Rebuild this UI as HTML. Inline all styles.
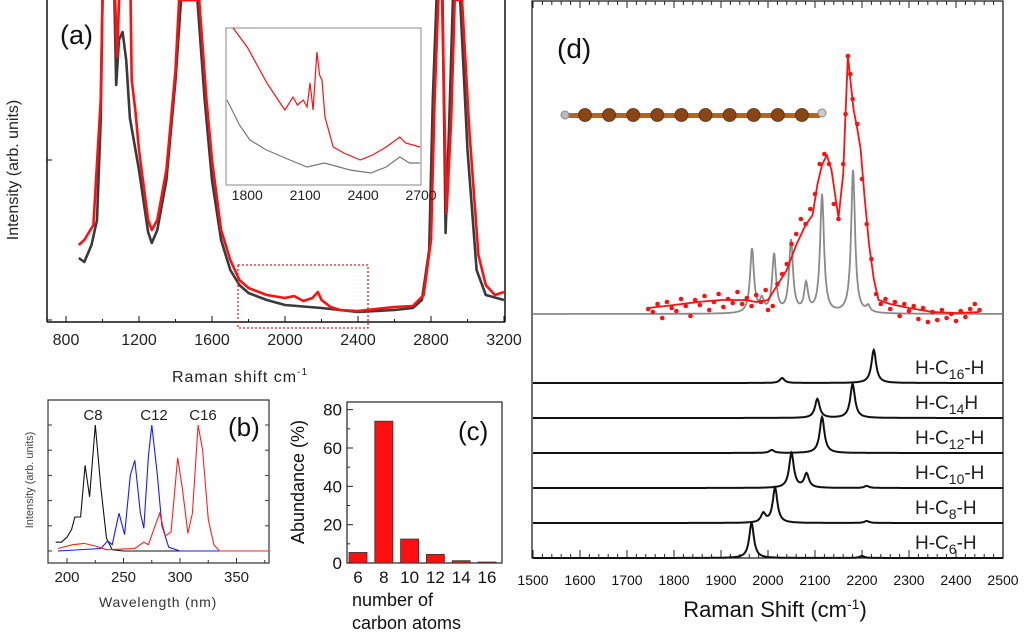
<!DOCTYPE html>
<html><head><meta charset="utf-8"><style>
html,body{margin:0;padding:0;background:#fff;}
svg{display:block;font-family:"Liberation Sans",sans-serif;}
</style></head><body>
<svg id="fig" width="1024" height="634" viewBox="0 0 1024 634">
<defs>
<clipPath id="clipA"><rect x="47" y="0" width="458" height="322"/></clipPath>
<clipPath id="clipB"><rect x="48" y="400" width="221" height="163"/></clipPath>
</defs>
<g>
<line x1="47" y1="0" x2="47" y2="322" stroke="#111" stroke-width="1.5"/>
<line x1="47" y1="322" x2="505" y2="322" stroke="#111" stroke-width="1.5"/>
<line x1="505" y1="0" x2="505" y2="322" stroke="#111" stroke-width="1.5"/>
<line x1="47" y1="160" x2="52" y2="160" stroke="#111"/>
<line x1="47" y1="320" x2="52" y2="320" stroke="#111"/>
<g id="aTicks"></g>
<g id="aCurves" clip-path="url(#clipA)"></g>
<text x="60" y="44" font-size="27" fill="#111">(a)</text>
<text x="240" y="382" font-size="16" fill="#222" text-anchor="middle" letter-spacing="1">Raman shift cm<tspan dy="-7" font-size="10">-1</tspan></text>
<text transform="translate(18,170) rotate(-90)" font-size="16" fill="#222" text-anchor="middle">Intensity (arb. units)</text>
<rect x="238" y="265" width="130" height="63" fill="none" stroke="#e02020" stroke-width="1.3" stroke-dasharray="2 2"/>
<g>
<rect x="226" y="28" width="195" height="157" fill="#fff" stroke="#888" stroke-width="1"/>
<g id="insetCurves"></g>
<g id="insetTicks"></g>
</g>
</g>
<g>
<rect x="48" y="400" width="221" height="163" fill="none" stroke="#333" stroke-width="1.2"/>
<g id="bTicks"></g>
<g id="bCurves" clip-path="url(#clipB)"></g>
<text x="93" y="420" font-size="15" fill="#222" text-anchor="middle">C8</text>
<text x="154" y="420" font-size="15" fill="#222" text-anchor="middle">C12</text>
<text x="203" y="420" font-size="15" fill="#222" text-anchor="middle">C16</text>
<text x="228" y="436" font-size="26" fill="#111">(b)</text>
<text x="158" y="607" font-size="14" fill="#333" text-anchor="middle" letter-spacing="0.8">Wavelength (nm)</text>
<text transform="translate(33,480) rotate(-90)" font-size="11" fill="#444" text-anchor="middle">Intensity (arb. units)</text>
</g>
<g>
<rect x="347" y="402" width="155" height="161" fill="none" stroke="#222" stroke-width="1.2"/>
<g id="cBars"></g>
<text x="458" y="440" font-size="26" fill="#111">(c)</text>
<text transform="translate(304,482) rotate(-90)" font-size="18" fill="#111" text-anchor="middle">Abundance (%)</text>
<text x="352" y="606" font-size="18" fill="#111">number of</text>
<text x="352" y="629" font-size="18" fill="#111">carbon atoms</text>
</g>
<g>
<rect x="532" y="1" width="471" height="557" fill="none" stroke="#222" stroke-width="1.3"/>
<g id="dTicks"></g>
<g id="dUpper"></g>
<g id="dStack"></g>
<text x="557" y="58" font-size="28" fill="#111">(d)</text>
<text x="775" y="617" font-size="22" fill="#111" text-anchor="middle">Raman Shift (cm<tspan dy="-8" font-size="14">-1</tspan><tspan dy="8">)</tspan></text>
<g id="mol">
<rect x="566" y="113" width="254" height="5" fill="#b8641c"/>
<circle cx="565" cy="115" r="4" fill="#bbb" stroke="#888"/>
<circle cx="822" cy="113" r="4" fill="#ccc" stroke="#888"/>
</g>
</g>
</svg>
<script>
const aDarkShift=[870,900,940,970,990,1000,1010,1060,1075,1090,1110,1130,1150,1200,1250,1270,1300,1350,1400,1430,1520,1560,1600,1650,1700,1750,1800,1900,2000,2200,2400,2600,2700,2750,2790,2810,2830,2860,2880,2900,2920,2960,3000,3050,3100,3200];
const aDarkInt=[64,60,77,102,202,322,372,372,237,282,290,262,204,152,90,79,92,142,242,322,322,222,142,82,52,37,29,22,17,14,10,12,14,22,72,222,322,372,89,202,322,322,172,52,27,22];
const aRedShift=[870,900,950,990,1000,1060,1080,1100,1150,1160,1180,1200,1250,1270,1300,1350,1400,1420,1530,1570,1600,1650,1700,1750,1800,1900,2000,2050,2100,2150,2180,2200,2250,2300,2400,2600,2700,2760,2800,2820,2840,2860,2885,2910,2930,2970,3010,3060,3100,3150,3200];
const aRedInt=[77,82,97,222,322,372,265,372,372,242,212,172,102,92,102,152,252,322,322,222,162,92,62,42,34,27,24,26,21,24,30,22,15,12,11,15,16,27,82,222,322,330,109,200,322,322,192,67,37,27,30];
const aTickLabels=[800,1200,1600,2000,2400,2800,3200];
const insetRedShift=[1727,1800,1902,1960,1995,2037,2060,2090,2110,2125,2141,2161,2175,2187,2203,2245,2300,2385,2450,2520,2590,2620,2695];
const insetRedInt=[157,138,102,85,75,88,80,85,78,102,75,133,110,105,68,38,32,25,30,38,48,42,38];
const insetGrayShift=[1695,1760,1814,1900,2021,2110,2200,2332,2440,2520,2590,2640,2695];
const insetGrayInt=[85,60,45,35,25,18,22,15,12,18,28,22,22];
const insetTickLabels=[1800,2100,2400,2700];
const bBlackWl=[190,195,200,204,207,212,216,220,225,230,235,240,250,380];
const bBlackInt=[0.07,0.07,0.11,0.17,0.27,0.27,0.68,0.43,1.0,0.5,0.1,0.01,0,0];
const bBlueWl=[192,230,236,240,246,251,256,260,265,268,272,275,280,284,290,300,380];
const bBlueInt=[0,0.02,0.08,0.05,0.3,0.13,0.6,0.72,0.3,0.18,0.75,1.0,0.6,0.2,0.03,0,0];
const bRedWl=[192,205,215,225,235,260,268,272,278,282,287,292,298,302,307,311,316,320,325,330,335,380];
const bRedInt=[0.02,0.05,0.06,0.04,0.01,0.02,0.07,0.05,0.2,0.3,0.12,0.15,0.74,0.5,0.14,0.3,1.0,0.8,0.25,0.05,0,0];
const bTickLabels=[200,250,300,350];
const cCategories=[6,8,10,12,14,16];
const cAbundance=[5.5,74,12.5,4.5,1.2,0.5];
const cTickLabels=[0,20,40,60,80];
const dTickLabels=[1500,1600,1700,1800,1900,2000,2100,2200,2300,2400,2500];
const dGrayCenters=[1966,1987,2013,2049,2081,2115,2181,2213];
const dGrayHeights=[64,12,58,72,28,118,143,6];
const dFitShift=[1745,1800,1850,1900,1950,1975,2000,2020,2040,2060,2080,2095,2105,2115,2125,2135,2150,2160,2165,2170,2175,2182,2190,2197,2205,2215,2225,2235,2260,2300,2350,2400,2450];
const dFitInt=[6,9,12,14,14,12,14,29,44,69,89,99,129,149,159,144,96,140,200,258,235,205,185,165,120,70,35,14,10,6,2,1,2];
const dPointShift=[1745,1755,1765,1775,1785,1795,1805,1815,1825,1835,1845,1855,1865,1875,1885,1895,1905,1915,1925,1935,1945,1955,1965,1975,1985,1995,2000,2010,2020,2030,2040,2050,2060,2070,2080,2090,2100,2110,2120,2130,2140,2150,2160,2165,2170,2175,2180,2190,2200,2210,2220,2230,2240,2250,2260,2270,2280,2290,2300,2310,2320,2330,2340,2350,2360,2370,2380,2390,2400,2410,2420,2430,2440,2450];
const dPointInt=[5,2,10,-4,12,6,3,15,8,-2,14,9,18,4,12,20,7,15,11,22,10,16,8,19,12,24,4,8,30,40,50,70,80,95,90,105,120,150,160,150,110,95,150,200,258,240,215,190,135,90,55,20,10,15,5,12,-2,10,3,8,-5,6,-8,2,-6,4,-4,0,-7,3,-3,5,10,4];
const stackLabels=['16','14','12','10','8','6'];
const stackCenters=[[2030,2225],[2105,2180],[2008,2115],[2050,2082,2210],[1990,2015,2210],[1965,2200]];
const stackHeights=[[5,33],[19,34],[3,36],[35,14,2],[9,35,2],[35,2]];
const molAtoms=[1,2,3,4,5,6,7,8,9,10];

const NS='http://www.w3.org/2000/svg';
function mk(tag,attrs,parent){const e=document.createElementNS(NS,tag);for(const k in attrs)e.setAttribute(k,attrs[k]);parent.appendChild(e);return e;}
function pathFrom(xs,ys){return xs.map((x,i)=>(i?'L':'M')+x.toFixed(1)+' '+ys[i].toFixed(1)).join(' ');}

const xA=v=>66+(v-800)*0.1825, yA=v=>322-v;
const aC=document.getElementById('aCurves');
let p=mk('path',{d:pathFrom(aDarkShift.map(xA),aDarkInt.map(yA)),fill:'none',stroke:'#3a3a3a','stroke-width':2.6,'stroke-linejoin':'round'},aC);


p=mk('path',{d:pathFrom(aRedShift.map(xA),aRedInt.map(yA)),fill:'none',stroke:'#ff1010','stroke-width':2.6,'stroke-linejoin':'round'},aC);


const aT=document.getElementById('aTicks');
for(let v=800;v<=3200;v+=200){const l=mk('line',{x1:xA(v),x2:xA(v),y1:322,y2:v%400===0?316:319,stroke:'#111'},aT);

}
aTickLabels.forEach(v=>{const t=mk('text',{x:xA(v),y:345,'font-size':16,fill:'#222','text-anchor':'middle'},aT);t.textContent=v;

});
const xI=v=>226+(v-1690)*195/1010, yI=v=>185-v;
const iC=document.getElementById('insetCurves');
p=mk('path',{d:pathFrom(insetGrayShift.map(xI),insetGrayInt.map(yI)),fill:'none',stroke:'#777','stroke-width':1.2},iC);


p=mk('path',{d:pathFrom(insetRedShift.map(xI),insetRedInt.map(yI)),fill:'none',stroke:'#ff1010','stroke-width':1.2},iC);


const iT=document.getElementById('insetTicks');
insetTickLabels.forEach(v=>{const t=mk('text',{x:xI(v),y:200,'font-size':14,fill:'#222','text-anchor':'middle'},iT);t.textContent=v;

});

const xB=v=>67+(v-200)*1.13, yB=v=>551-v*126;
const bC=document.getElementById('bCurves');
[[bBlackWl,bBlackInt,'#111','c8-absorption'],[bBlueWl,bBlueInt,'#1a1aff','c12-absorption'],[bRedWl,bRedInt,'#ff2020','c16-absorption']].forEach(s=>{
const q=mk('path',{d:pathFrom(s[0].map(xB),s[1].map(yB)),fill:'none',stroke:s[2],'stroke-width':1.1},bC);

});
const bT=document.getElementById('bTicks');
for(let v=200;v<=375;v+=25){const l=mk('line',{x1:xB(v),x2:xB(v),y1:563,y2:v%50===0?558:560,stroke:'#333'},bT);

}
for(let k=0;k<=5;k++){mk('line',{x1:48,x2:52,y1:yB(k*0.2),y2:yB(k*0.2),stroke:'#333'},bT);mk('line',{x1:265,x2:269,y1:yB(k*0.2),y2:yB(k*0.2),stroke:'#333'},bT);}
bTickLabels.forEach(v=>{const t=mk('text',{x:xB(v),y:582,'font-size':15,fill:'#222','text-anchor':'middle'},bT);t.textContent=v;

});

const yC=v=>563-v*1.9167, xC=c=>358+(c-6)*12.9;
const cB=document.getElementById('cBars');
cCategories.forEach((c,i)=>{const r=mk('rect',{x:xC(c)-9,y:yC(cAbundance[i]),width:18,height:563-yC(cAbundance[i]),fill:'#ff1010',stroke:'#333','stroke-width':0.8},cB);


const t=mk('text',{x:xC(c),y:583,'font-size':17,fill:'#111','text-anchor':'middle'},cB);t.textContent=c;

});
for(let v=0;v<=80;v+=10){mk('line',{x1:347,x2:v%20===0?353:350,y1:yC(v),y2:yC(v),stroke:'#222'},cB);}
cTickLabels.forEach(v=>{const t=mk('text',{x:342,y:yC(v)+6,'font-size':17,fill:'#111','text-anchor':'end'},cB);t.textContent=v;

});

const xD=v=>533+(v-1500)*0.47;
const dT=document.getElementById('dTicks');
for(let v=1500;v<=2500;v+=20){const big=v%100===0;
mk('line',{x1:xD(v),x2:xD(v),y1:558,y2:big?550:554,stroke:'#222'},dT);
mk('line',{x1:xD(v),x2:xD(v),y1:1,y2:big?8:5,stroke:'#222'},dT);}
dTickLabels.forEach(v=>{const t=mk('text',{x:xD(v),y:585,'font-size':14,fill:'#111','text-anchor':'middle'},dT);t.textContent=v;

});
function lor(cs,hs,g,v){let s=0;for(let i=0;i<cs.length;i++){const d=(v-cs[i])/g;s+=hs[i]/(1+d*d);}return s;}
const dU=document.getElementById('dUpper');
let gx=[],gy=[];for(let v=1500;v<=2500;v+=1){gx.push(xD(v));gy.push(314-lor(dGrayCenters,dGrayHeights,5,v));}
p=mk('path',{d:pathFrom(gx,gy),fill:'none',stroke:'#8a8a8a','stroke-width':1.8},dU);


p=mk('path',{d:pathFrom(dFitShift.map(xD),dFitInt.map(v=>314-v)),fill:'none',stroke:'#ff1010','stroke-width':1.8,'stroke-linejoin':'round'},dU);


dPointShift.forEach((v,i)=>{const c=mk('circle',{cx:xD(v),cy:314-dPointInt[i],r:2.3,fill:'#ff1010'},dU);

});
const dS=document.getElementById('dStack');
stackLabels.forEach((n,i)=>{const base=383+i*35;let xs=[],ys=[];
for(let v=1500;v<=2500;v+=1){xs.push(xD(v));ys.push(base-lor(stackCenters[i],stackHeights[i],6,v));}
const q=mk('path',{d:pathFrom(xs,ys),fill:'none',stroke:'#111','stroke-width':2},dS);


const t=mk('text',{x:915,y:base-9,'font-size':19,fill:'#222'},dS);
const s1=mk('tspan',{dy:5,'font-size':14},t);
t.insertBefore(document.createTextNode('H-C'),s1);
s1.textContent=n;
const s2=mk('tspan',{dy:-5},t);
s2.textContent=(n==='14'?'H':'-H');

});
const mol=document.getElementById('mol');
molAtoms.forEach((a,i)=>{const c=mk('circle',{cx:585+i*24.1,cy:115,r:6.5,fill:'#8b4513',stroke:'#5a2d0c','stroke-width':0.8},mol);

});
</script>
</body></html>
